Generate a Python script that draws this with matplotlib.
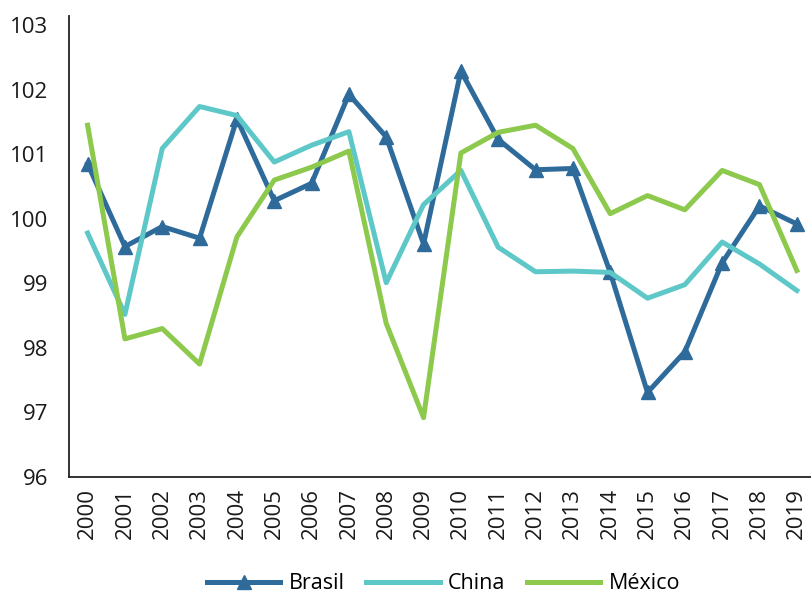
import numpy as np
import matplotlib.pyplot as plt

years = [str(y) for y in range(2000, 2020)]

brasil = [100.85, 99.57, 99.88, 99.70, 101.55, 100.28, 100.55, 101.93, 101.27, 99.61,
          102.29, 101.23, 100.76, 100.78, 99.17, 97.31, 97.94, 99.32, 100.20, 99.92]
china = [99.78, 98.52, 101.09, 101.74, 101.60, 100.88, 101.14, 101.35, 99.01, 100.22,
         100.75, 99.56, 99.18, 99.19, 99.17, 98.77, 98.98, 99.64, 99.30, 98.89]
mexico = [101.45, 98.14, 98.30, 97.75, 99.72, 100.60, 100.80, 101.05, 98.38, 96.92,
          101.02, 101.34, 101.45, 101.09, 100.08, 100.36, 100.14, 100.75, 100.53, 99.20]

plt.rcParams['font.family'] = ['Open Sans', 'DejaVu Sans']

fig = plt.figure(figsize=(8.11, 5.98), dpi=100)
ax = fig.add_axes([0.085, 0.2023, 0.915, 0.7707])

x = np.arange(len(years))
ax.plot(x, brasil, color='#2e6b9b', lw=3.6, marker='^', markersize=10, label='Brasil')
ax.plot(x, china, color='#5ec8c9', lw=3.6, label='China')
ax.plot(x, mexico, color='#8dc94c', lw=3.6, label='México')

ax.set_xlim(-0.5, 19.38)
ax.set_ylim(96, 103.14)
ax.set_yticks(range(96, 104))
ax.set_xticks(x)
ax.set_xticklabels(years, rotation=90)
ax.tick_params(axis='both', length=0, labelsize=16, colors='#1a1a1a')
ax.tick_params(axis='x', pad=8)
ax.tick_params(axis='y', pad=15)

for s in ['top', 'right']:
    ax.spines[s].set_visible(False)
for s in ['left', 'bottom']:
    ax.spines[s].set_color('#222222')
    ax.spines[s].set_linewidth(1.3)

ax.legend(loc='center', bbox_to_anchor=(0.505, -0.232), ncol=3, frameon=False,
          fontsize=15.5, handlelength=3.4, columnspacing=1.0, handletextpad=0.4)

fig.savefig('out.png', dpi=100)
